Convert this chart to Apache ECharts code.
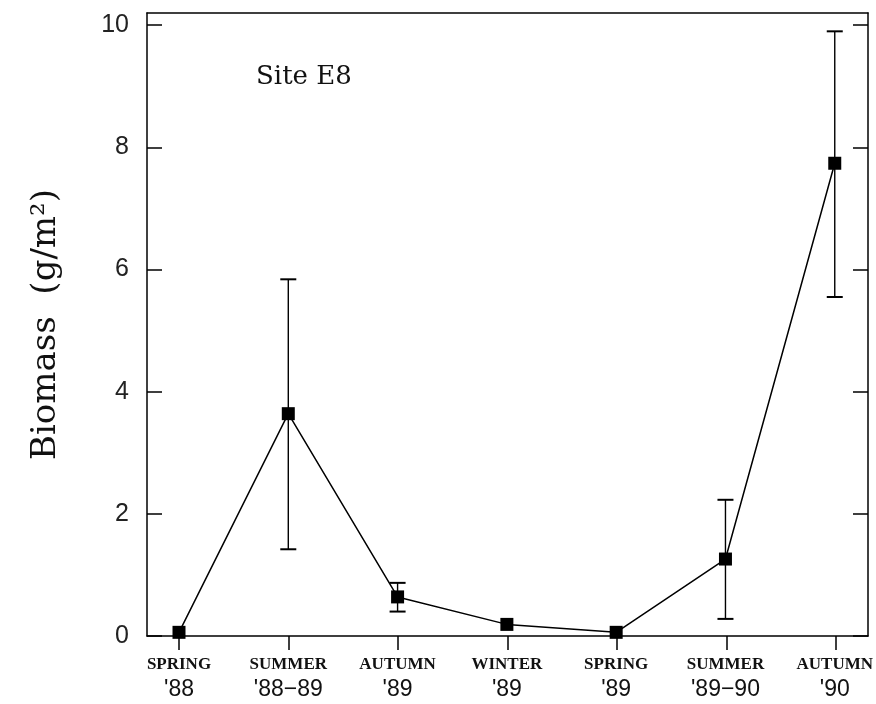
<!DOCTYPE html>
<html>
<head>
<meta charset="utf-8">
<script src="https://cdn.jsdelivr.net/npm/echarts@6/dist/echarts.min.js"></script>
<style>
  html, body { margin: 0; padding: 0; background: #ffffff; }
  #chart { width: 876px; height: 704px; }
</style>
</head>
<body>
<div id="chart"></div>
<script>
  // season / year labels under the x axis
  var seasons = ['SPRING', 'SUMMER', 'AUTUMN', 'WINTER', 'SPRING', 'SUMMER', 'AUTUMN']
  var years = ["'88", "'88\u221289", "'89", "'89", "'89", "'89\u221290", "'90"]
  // biomass g/m2, with error bar ends (null = bar hidden by marker)
  var biomass = [0.06, 3.64, 0.64, 0.19, 0.06, 1.26, 7.74]
  var errLow = [null, 1.42, 0.40, null, null, 0.28, 5.55]
  var errHigh = [null, 5.84, 0.87, null, null, 2.23, 9.90]
  var yTicks = [0, 2, 4, 6, 8, 10]

  var lineData = biomass.map(function (v, i) { return [i, v] })
  var errData = []
  errLow.forEach(function (lo, i) {
    if (lo !== null) errData.push([i, lo, errHigh[i]])
  })

  var frameLine = { show: true, onZero: false, lineStyle: { color: '#000', width: 1.5 } }

  var chart = echarts.init(document.getElementById('chart'))
  var option = {
    backgroundColor: '#ffffff',
    animation: false,
    title: {
      text: 'Site E8',
      left: 251,
      top: 59,
      textStyle: {
        fontFamily: 'DejaVu Serif',
        fontWeight: 'normal',
        fontSize: 26,
        color: '#111'
      }
    },
    // grid 0 = the box, grid 1 = the data area between first and last season,
    // grid 2 = same columns, 14px lower, only carries the season ticks
    grid: [
      { left: 147, right: 8, top: 13, bottom: 68 },
      { left: 179, right: 40, top: 13, bottom: 68 },
      { left: 179, right: 40, top: 13, bottom: 54 }
    ],
    xAxis: [
      {
        gridIndex: 0, type: 'value', min: 0, max: 1,
        axisLine: frameLine, axisTick: { show: false }, axisLabel: { show: false }, splitLine: { show: false }
      },
      {
        gridIndex: 0, type: 'value', position: 'top', min: 0, max: 1,
        axisLine: frameLine, axisTick: { show: false }, axisLabel: { show: false }, splitLine: { show: false }
      },
      {
        gridIndex: 1,
        type: 'category',
        data: seasons,
        boundaryGap: false,
        axisLine: { show: false },
        splitLine: { show: false },
        axisTick: { show: false },
        axisLabel: {
          margin: 18,
          interval: 0,
          formatter: function (v, i) {
            return '{a|' + seasons[i] + '}\n{b|' + years[i] + '}'
          },
          rich: {
            a: {
              fontFamily: 'Liberation Serif',
              fontWeight: 'bold',
              fontSize: 17,
              lineHeight: 22,
              color: '#111'
            },
            b: {
              fontFamily: 'Liberation Sans',
              fontSize: 23,
              lineHeight: 28,
              color: '#111'
            }
          }
        }
      },
      {
        gridIndex: 2,
        type: 'category',
        data: seasons,
        boundaryGap: false,
        axisLine: { show: false },
        splitLine: { show: false },
        axisLabel: { show: false },
        axisTick: {
          show: true,
          inside: true,
          interval: 0,
          length: 14,
          lineStyle: { color: '#000', width: 1.5 }
        }
      }
    ],
    yAxis: [
      {
        gridIndex: 0,
        type: 'value',
        min: 0,
        max: 10.2,
        name: 'Biomass  (g/m\u00b2)',
        nameLocation: 'middle',
        nameGap: 84,
        nameTextStyle: {
          fontFamily: 'DejaVu Serif',
          fontSize: 34,
          color: '#111'
        },
        axisLine: frameLine,
        splitLine: { show: false },
        axisTick: {
          show: true,
          inside: true,
          length: 15,
          customValues: yTicks,
          lineStyle: { color: '#000', width: 1.5 }
        },
        axisLabel: {
          customValues: yTicks,
          margin: 18,
          fontFamily: 'Liberation Sans',
          fontSize: 25,
          color: '#222'
        }
      },
      {
        gridIndex: 0,
        type: 'value',
        position: 'right',
        min: 0,
        max: 10.2,
        axisLine: frameLine,
        splitLine: { show: false },
        axisTick: {
          show: true,
          inside: true,
          length: 15,
          customValues: yTicks,
          lineStyle: { color: '#000', width: 1.5 }
        },
        axisLabel: { show: false }
      },
      {
        gridIndex: 1,
        type: 'value',
        min: 0,
        max: 10.2,
        show: false
      },
      {
        gridIndex: 2,
        type: 'value',
        min: 0,
        max: 1,
        show: false
      }
    ],
    series: [
      {
        type: 'custom',
        name: 'error',
        xAxisIndex: 2,
        yAxisIndex: 2,
        data: errData,
        z: 2,
        renderItem: function (params, api) {
          var x = api.value(0)
          var lo = api.coord([x, api.value(1)])
          var hi = api.coord([x, api.value(2)])
          var w = 8
          return {
            type: 'group',
            children: [
              { type: 'line', shape: { x1: lo[0], y1: lo[1], x2: hi[0], y2: hi[1] }, style: { stroke: '#000', lineWidth: 1.4 } },
              { type: 'line', shape: { x1: lo[0] - w, y1: lo[1], x2: lo[0] + w, y2: lo[1] }, style: { stroke: '#000', lineWidth: 2 } },
              { type: 'line', shape: { x1: hi[0] - w, y1: hi[1], x2: hi[0] + w, y2: hi[1] }, style: { stroke: '#000', lineWidth: 2 } }
            ]
          }
        }
      },
      {
        type: 'line',
        name: 'Biomass',
        xAxisIndex: 2,
        yAxisIndex: 2,
        data: lineData,
        z: 3,
        symbol: 'rect',
        symbolSize: 13,
        showAllSymbol: true,
        lineStyle: { color: '#000', width: 1.5 },
        itemStyle: { color: '#000' }
      }
    ]
  }
  chart.setOption(option)
</script>
</body>
</html>
